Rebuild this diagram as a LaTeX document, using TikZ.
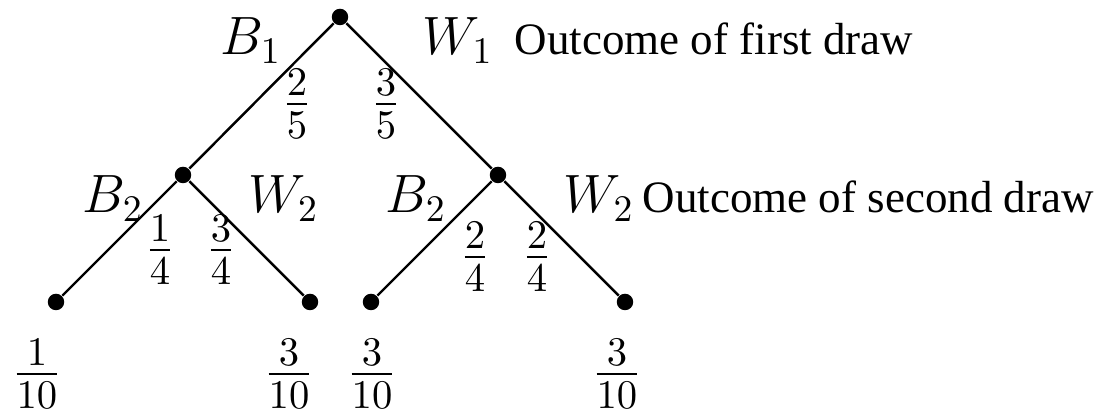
\RequirePackage{fix-cm}
\documentclass[tikz,border=0pt]{standalone}
\usepackage{amsmath}
\usepackage{fontspec}
\newfontfamily\notefont{Liberation Serif}

\begin{document}
\begin{tikzpicture}[
  scale=0.375,
  vertex/.style={circle,fill=black,inner sep=0pt,minimum size=4.4pt},
  branch/.style={black,line width=0.65pt},
  lbl/.style={inner sep=0pt,anchor=base,font=\Large},
  prob/.style={inner sep=0pt,font=\fontsize{15.5}{18}\selectfont},
  outcome/.style={inner sep=0pt,anchor=base west,font=\large\notefont}]

  \useasboundingbox (0,0) rectangle (27.6,10.325);

  % nodes of the tree
  \node[vertex] (root) at (8.5,9.9) {};
  \node[vertex] (b1) at (4.575,5.95) {};
  \node[vertex] (w1) at (12.45,5.95) {};
  \node[vertex] (b1b2) at (1.4,2.775) {};
  \node[vertex] (b1w2) at (7.75,2.775) {};
  \node[vertex] (w1b2) at (9.275,2.775) {};
  \node[vertex] (w1w2) at (15.625,2.775) {};

  \draw[branch] (root) -- (b1);
  \draw[branch] (root) -- (w1);
  \draw[branch] (b1) -- (b1b2);
  \draw[branch] (b1) -- (b1w2);
  \draw[branch] (w1) -- (w1b2);
  \draw[branch] (w1) -- (w1w2);

  % first draw
  \node[lbl] (lb1) at (6.275,8.95) {$B_1$};
  \node[lbl] (lw1) at (11.45,8.95) {$W_1$};
  \node[outcome] (first) at (12.85,8.95) {Outcome of first draw};
  \node[prob] (p1) at (7.425,7.725) {$\frac{2}{5}$};
  \node[prob] (p2) at (9.65,7.725) {$\frac{3}{5}$};

  % second draw
  \node[lbl] (lb2a) at (2.825,5.0) {$B_2$};
  \node[lbl] (lw2a) at (7.09,5.0) {$W_2$};
  \node[lbl] (lb2b) at (10.4,5.0) {$B_2$};
  \node[lbl] (lw2b) at (14.975,5.0) {$W_2$};
  \node[outcome] (second) at (16.05,5.0) {Outcome of second draw};
  \node[prob] (p3) at (4.0,4.075) {$\frac{1}{4}$};
  \node[prob] (p4) at (5.525,4.075) {$\frac{3}{4}$};
  \node[prob] (p5) at (11.875,3.9) {$\frac{2}{4}$};
  \node[prob] (p6) at (13.425,3.9) {$\frac{2}{4}$};

  % leaves
  \node[prob] (q1) at (0.925,0.97) {$\frac{1}{10}$};
  \node[prob] (q2) at (7.225,0.97) {$\frac{3}{10}$};
  \node[prob] (q3) at (9.3,0.97) {$\frac{3}{10}$};
  \node[prob] (q4) at (15.425,0.97) {$\frac{3}{10}$};
\end{tikzpicture}
\end{document}
